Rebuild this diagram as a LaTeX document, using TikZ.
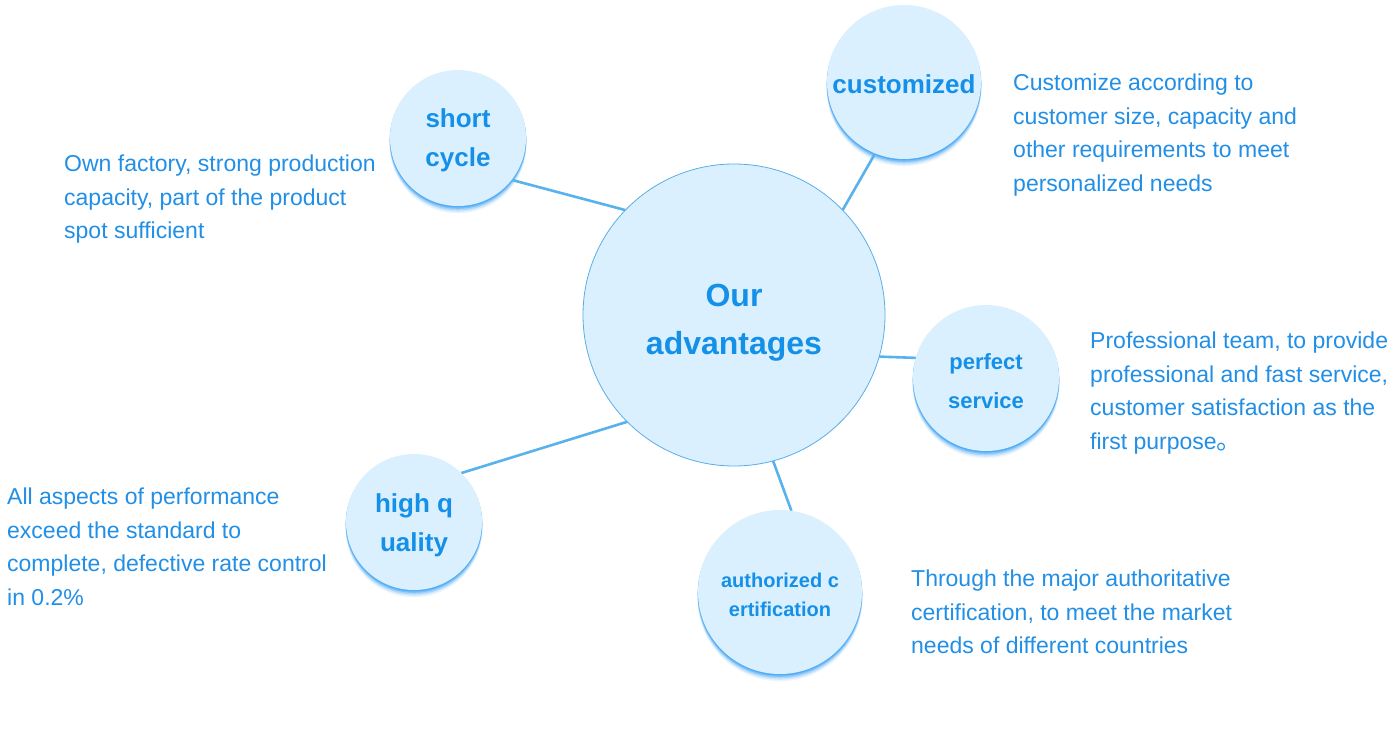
\documentclass[tikz,border=0pt]{standalone}
\usepackage{fontspec}
\setmainfont{Liberation Sans}
\newfontfamily\cjk{Noto Sans CJK SC}
\definecolor{fillc}{HTML}{DBF0FE}
\definecolor{txtc}{HTML}{1590E8}
\definecolor{bodyc}{HTML}{228FE6}
\definecolor{linec}{HTML}{58B2EC}
\definecolor{shc}{HTML}{2196F3}
\definecolor{borderc}{HTML}{5AAEE8}
\pgfdeclarelayer{bg}
\pgfsetlayers{bg,main}
\tikzset{
  bubble/.style={circle, fill=fillc, inner sep=0pt, outer sep=0pt},
  btext/.style={text=txtc, align=center, inner sep=0pt},
  conn/.style={draw=linec, line width=2.6pt},
  bodytext/.style={text=bodyc, align=left, anchor=north west, inner sep=0pt, font=\fontsize{23}{33.5}\selectfont},
}
\begin{document}
\begin{tikzpicture}[x=1pt,y=-1pt]
% centre
\node[bubble, draw=borderc, line width=0.8pt, minimum size=302pt] (main) at (734,315) {};
\node[btext, font=\bfseries\fontsize{32}{48}\selectfont] (mainl) at (734,323) {Our\\advantages};
% satellites
\node[bubble, minimum size=136pt] (sc) at (458,138) {};
\node[btext, font=\bfseries\fontsize{26}{39}\selectfont] (scl) at (458,140) {short\\cycle};
\node[bubble, minimum size=154pt] (cu) at (904,82) {};
\node[btext, font=\bfseries\fontsize{26}{39}\selectfont] (cul) at (904,84) {customized};
\node[bubble, minimum size=146pt] (ps) at (986,378) {};
\node[btext, font=\bfseries\fontsize{22}{39}\selectfont] (psl) at (986,381) {perfect\\service};
\node[bubble, minimum size=136pt] (hq) at (414,522) {};
\node[btext, font=\bfseries\fontsize{26}{39}\selectfont] (hql) at (414,525) {high q\\uality};
\node[bubble, minimum size=164pt] (ac) at (780,592) {};
\node[btext, font=\bfseries\fontsize{20}{29}\selectfont] (acl) at (780,595) {authorized c\\ertification};
\begin{pgfonlayer}{bg}
  \fill[white] (0,0) rectangle (1397,730);
  \foreach \c/\r in {sc/68, cu/77, ps/73, hq/68, ac/82}{
    \foreach \d/\o in {7/0.08, 5.5/0.14, 4/0.22, 2.5/0.32, 1.2/0.45}{
      \fill[shc, opacity=\o] ([yshift=-\d pt]\c.center) circle (\r+0.3);
    }
  }
  \draw[conn] (sc.-38) -- (main.136);
  \draw[conn] (cu.-112) -- (main.44);
  \draw[conn] (ps.164) -- (main.-16);
  \draw[conn] (hq.46) -- (main.-135);
  \draw[conn] (ac.82) -- (main.-75);
\end{pgfonlayer}
\useasboundingbox (0,0) rectangle (1397,730);
% descriptions
\node[bodytext] (t1) at (64,155) {Own factory, strong production\\capacity, part of the product\\spot sufficient};
\node[bodytext] (t2) at (1013,74) {Customize according to\\customer size, capacity and\\other requirements to meet\\personalized needs};
\node[bodytext] (t3) at (1090,332) {Professional team, to provide\\professional and fast service,\\customer satisfaction as the\\first purpose{\cjk\fontsize{26}{33.5}\selectfont 。}};
\node[bodytext] (t4) at (7,488) {All aspects of performance\\exceed the standard to\\complete, defective rate control\\in 0.2\%};
\node[bodytext] (t5) at (911,570) {Through the major authoritative\\certification, to meet the market\\needs of different countries};
\end{tikzpicture}
\end{document}
